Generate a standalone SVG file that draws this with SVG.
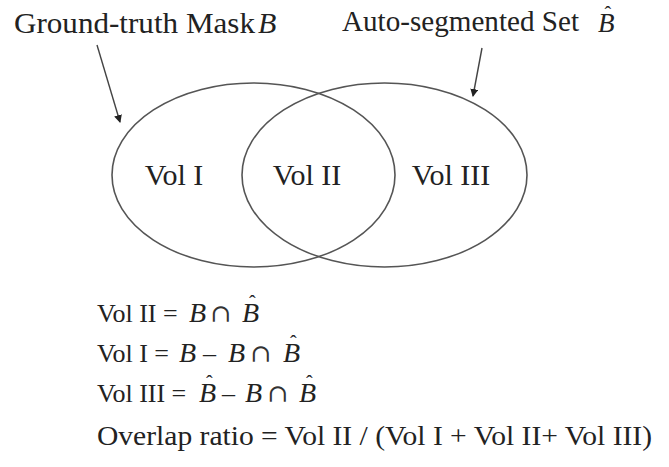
<svg xmlns="http://www.w3.org/2000/svg" width="669" height="467" viewBox="0 0 669 467">
<defs>
<marker id="ah" markerWidth="8" markerHeight="8" refX="7" refY="4" orient="auto" markerUnits="userSpaceOnUse">
<path d="M0,0 L8,4 L0,8 Z" fill="#222"/>
</marker>
<style>
.t{font-family:"Liberation Serif","DejaVu Serif",serif;fill:#222;}
.m{font-family:"Liberation Serif","DejaVu Serif",serif;font-style:italic;fill:#222;}
.s{font-family:"DejaVu Serif","Liberation Serif",serif;fill:#333;}
.h{font-family:"Liberation Serif","DejaVu Serif",serif;font-style:normal;font-size:20px;}
.e{fill:none;stroke:#555;stroke-width:1.6;}
.c{fill:none;stroke:#444;stroke-width:1.4;}
</style>
</defs>
<rect width="669" height="467" fill="#fff"/>
<g id="label-B">
<text class="t" x="14" y="33" font-size="29" textLength="241" lengthAdjust="spacingAndGlyphs">Ground-truth Mask</text>
<text class="m" x="258" y="33" font-size="30">B</text>
</g>
<g id="label-Bhat">
<text class="t" x="342" y="31" font-size="29" textLength="237" lengthAdjust="spacingAndGlyphs">Auto-segmented Set</text>
<text class="m" x="598" y="32" font-size="27">B<tspan class="h" dx="-10" dy="-11">ˆ</tspan></text>
</g>
<g id="connectors">
<line class="c" x1="97" y1="45" x2="120" y2="122" marker-end="url(#ah)"/>
<line class="c" x1="482" y1="48" x2="473" y2="96" marker-end="url(#ah)"/>
</g>
<g id="set-B">
<ellipse class="e" cx="253.5" cy="175" rx="141.5" ry="92"/>
</g>
<g id="set-Bhat">
<ellipse class="e" cx="384.5" cy="175" rx="142.5" ry="92"/>
</g>
<g id="vol1"><text class="t" x="174" y="185" font-size="30" text-anchor="middle">Vol I</text></g>
<g id="vol2"><text class="t" x="307" y="185" font-size="30" text-anchor="middle">Vol II</text></g>
<g id="vol3"><text class="t" x="451" y="185" font-size="30" text-anchor="middle">Vol III</text></g>
<g id="equations">
<text class="t" x="97" y="322" font-size="26">Vol II =</text>
<text class="m" x="189" y="322" font-size="28">B</text>
<text class="s" x="210" y="322" font-size="25">∩</text>
<text class="m" x="242" y="322" font-size="28">B<tspan class="h" dx="-10" dy="-12">ˆ</tspan></text>

<text class="t" x="97" y="362" font-size="26">Vol I =</text>
<text class="m" x="179" y="362" font-size="28">B</text>
<text class="t" x="203" y="362" font-size="26">–</text>
<text class="m" x="228" y="362" font-size="28">B</text>
<text class="s" x="250" y="362" font-size="25">∩</text>
<text class="m" x="283" y="362" font-size="28">B<tspan class="h" dx="-10" dy="-12">ˆ</tspan></text>

<text class="t" x="97" y="402" font-size="26">Vol III =</text>
<text class="m" x="199" y="402" font-size="28">B<tspan class="h" dx="-10" dy="-12">ˆ</tspan></text>
<text class="t" x="222" y="402" font-size="26">–</text>
<text class="m" x="245" y="402" font-size="28">B</text>
<text class="s" x="267" y="402" font-size="25">∩</text>
<text class="m" x="299" y="402" font-size="28">B<tspan class="h" dx="-10" dy="-12">ˆ</tspan></text>

<text class="t" x="97" y="445" font-size="28" textLength="555" lengthAdjust="spacingAndGlyphs">Overlap ratio = Vol II / (Vol I + Vol II+ Vol III)</text>
</g>
</svg>
